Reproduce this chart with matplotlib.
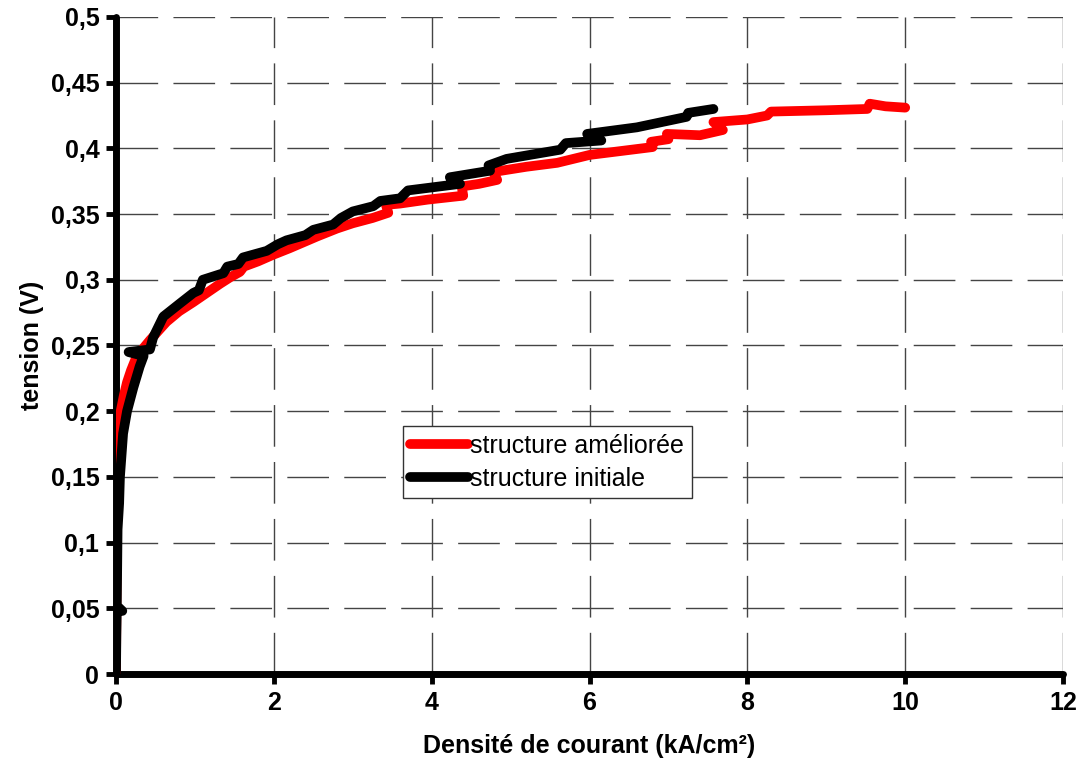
import matplotlib
matplotlib.use("Agg")
import matplotlib.pyplot as plt

plt.rcParams['font.family'] = ['Liberation Sans', 'DejaVu Sans']

# --- data (x in kA/cm², y in V) ---
ameliore_x = [0.0, 0.005, 0.01, 0.02, 0.03, 0.06, 0.10, 0.14, 0.19, 0.25, 0.32, 0.43,
              0.52, 0.64, 0.80, 0.98, 1.15, 1.32, 1.45, 1.57, 1.62, 1.80, 1.99, 2.20,
              2.55, 2.80, 3.00, 3.25, 3.45, 3.42, 3.60, 3.95, 4.40, 4.38, 4.60, 4.83,
              4.78, 5.20, 5.59, 6.00, 6.40, 6.80, 6.78, 7.00, 6.98, 7.40, 7.69, 7.57,
              8.00, 8.25, 8.30, 9.00, 9.52, 9.55, 9.75, 10.0]
ameliore_y = [0.0, 0.05, 0.10, 0.14, 0.17, 0.20, 0.212, 0.222, 0.231, 0.240, 0.246, 0.254,
              0.260, 0.268, 0.276, 0.283, 0.290, 0.297, 0.302, 0.306, 0.310, 0.314, 0.319, 0.324,
              0.333, 0.339, 0.343, 0.347, 0.351, 0.357, 0.358, 0.361, 0.364, 0.371, 0.373, 0.376,
              0.382, 0.386, 0.389, 0.395, 0.398, 0.401, 0.405, 0.407, 0.411, 0.410, 0.414, 0.420,
              0.422, 0.425, 0.428, 0.429, 0.430, 0.434, 0.432, 0.431]

initiale_x = [0.0, 0.005, 0.01, 0.08, 0.01, 0.015, 0.02, 0.04, 0.05, 0.09, 0.14, 0.22,
              0.30, 0.35, 0.16, 0.43, 0.47, 0.60, 0.81, 0.98, 1.05, 1.10, 1.36, 1.41,
              1.55, 1.61, 1.91, 2.05, 2.16, 2.40, 2.50, 2.75, 2.85, 3.00, 3.26, 3.35,
              3.60, 3.70, 4.36, 4.23, 4.74, 4.72, 4.95, 5.63, 5.70, 6.15, 5.97, 6.60,
              7.23, 7.25, 7.57]
initiale_y = [0.0, 0.03, 0.048, 0.048, 0.052, 0.08, 0.11, 0.13, 0.15, 0.183, 0.200, 0.218,
              0.234, 0.242, 0.245, 0.247, 0.256, 0.272, 0.282, 0.290, 0.292, 0.300, 0.305, 0.310,
              0.312, 0.317, 0.322, 0.327, 0.330, 0.334, 0.338, 0.342, 0.347, 0.352, 0.356, 0.360,
              0.362, 0.368, 0.373, 0.378, 0.383, 0.387, 0.392, 0.399, 0.404, 0.406, 0.411, 0.416,
              0.424, 0.427, 0.430]

x_ticks = [0, 2, 4, 6, 8, 10, 12]
y_ticks = [0, 0.05, 0.1, 0.15, 0.2, 0.25, 0.3, 0.35, 0.4, 0.45, 0.5]
y_tick_labels = ["0", "0,05", "0,1", "0,15", "0,2", "0,25", "0,3", "0,35", "0,4", "0,45", "0,5"]

fig = plt.figure(figsize=(10.8, 7.71), dpi=100)
ax = fig.add_axes([0.1074, 0.1258, 0.8769, 0.8522])

ax.plot(ameliore_x, ameliore_y, color='#ff0000', lw=7, solid_capstyle='round',
        solid_joinstyle='round', label='structure améliorée', zorder=3)
ax.plot(initiale_x, initiale_y, color='black', lw=7, solid_capstyle='round',
        solid_joinstyle='round', label='structure initiale', zorder=4)

ax.set_xlim(0, 12)
ax.set_ylim(0, 0.5)
ax.set_xticks(x_ticks)
ax.set_yticks(y_ticks)
ax.set_yticklabels(y_tick_labels)

ax.grid(True, color='#444444', lw=1.0, dashes=(30, 11))
ax.set_axisbelow(True)

for s in ['top', 'right']:
    ax.spines[s].set_visible(False)
for s in ['left', 'bottom']:
    ax.spines[s].set_linewidth(5)
    ax.spines[s].set_capstyle('round')

ax.tick_params(direction='out', length=7, width=3.5, labelsize=18, pad=5)
for lab in ax.get_xticklabels() + ax.get_yticklabels():
    lab.set_fontweight('bold')

ax.set_xlabel("Densité de courant (kA/cm²)", fontsize=18, fontweight='bold', labelpad=14)
ax.set_ylabel("tension (V)", fontsize=18, fontweight='bold', labelpad=5)

leg = ax.legend(loc='upper left', bbox_to_anchor=(0.303, 0.377), fontsize=18,
                frameon=True, fancybox=False, edgecolor='#333333', framealpha=1,
                handlelength=2.3, handletextpad=0.1, borderpad=0.3, labelspacing=0.35,
                borderaxespad=0)
leg.get_frame().set_linewidth(1.0)

fig.savefig("out.png", dpi=100)
